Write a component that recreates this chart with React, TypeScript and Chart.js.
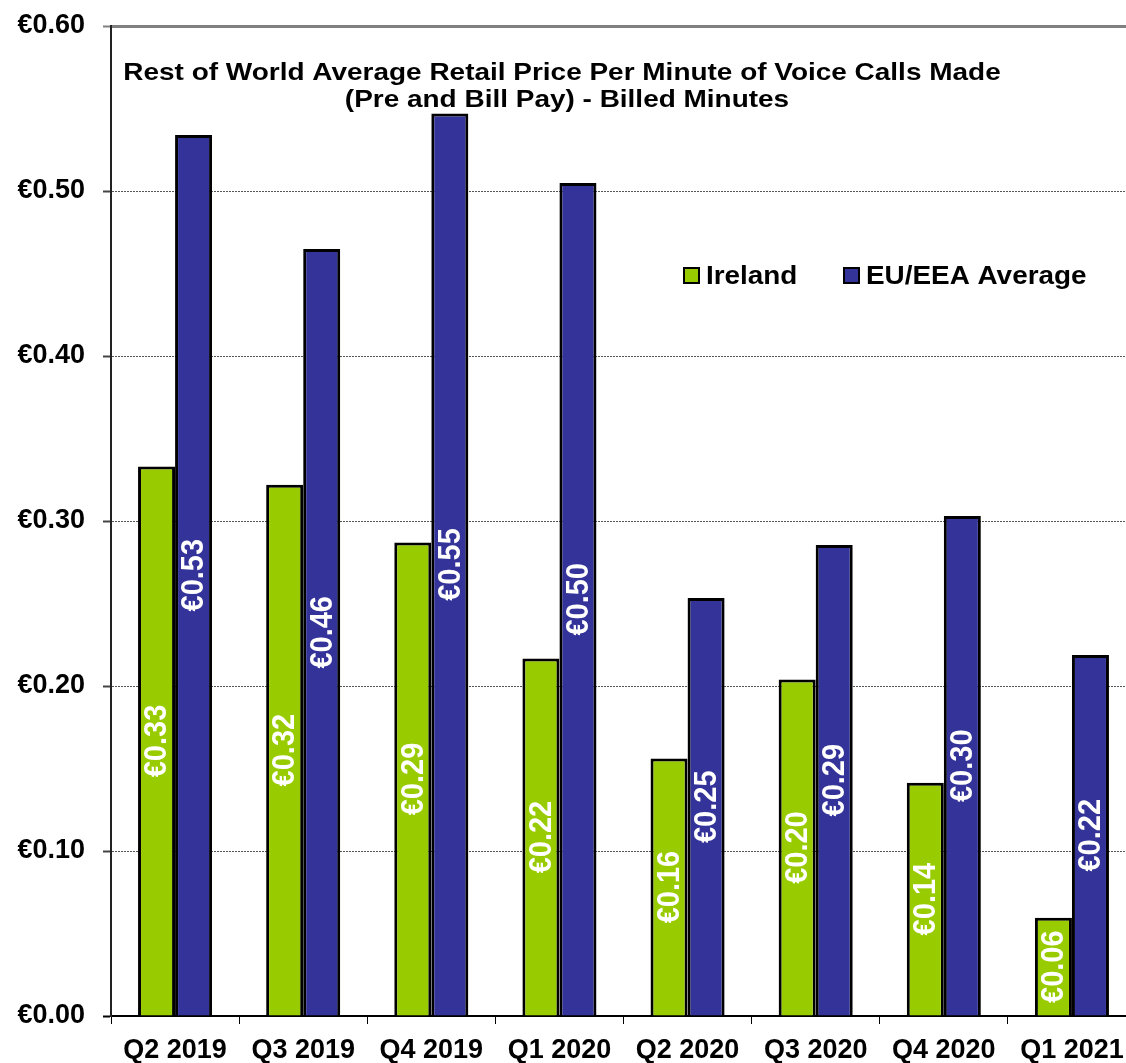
import React, { useEffect, useRef } from "react";
import { Chart, registerables } from "chart.js";

Chart.register(...registerables);

const categories = ["Q2 2019", "Q3 2019", "Q4 2019", "Q1 2020", "Q2 2020", "Q3 2020", "Q4 2020", "Q1 2021"];
const irelandValues = [0.333, 0.322, 0.287, 0.2166, 0.156, 0.2039, 0.1414, 0.0595];
const euValues = [0.534, 0.4648, 0.547, 0.5048, 0.2533, 0.2855, 0.303, 0.2188];
const seriesNames = ["Ireland", "EU/EEA Average"];
const seriesColors = ["#99CC00", "#333399"];
const titleLines = [
  "Rest of World Average Retail Price Per Minute of Voice Calls Made",
  "(Pre and Bill Pay) - Billed Minutes",
];
const yMin = 0;
const yMax = 0.6;
const yStep = 0.1;

const FONT = "'Liberation Sans', Arial, Helvetica, sans-serif";
const euro = (v: number) => "\u20AC" + Number(v).toFixed(2);

const CANVAS_W = 1136;
const CANVAS_H = 1063;

function stretchedText(ctx: any, text: string, x: number, y: number, sx: number, align: string) {
  ctx.save();
  ctx.translate(x, y);
  ctx.scale(sx, 1);
  ctx.textAlign = align;
  ctx.fillText(text, 0, 0);
  ctx.restore();
}

const titlePlugin = {
  id: "customTitle",
  afterDraw(chart: any) {
    const ctx = chart.ctx;
    ctx.save();
    ctx.fillStyle = "#000";
    ctx.font = `bold 24px ${FONT}`;
    ctx.textBaseline = "alphabetic";
    stretchedText(ctx, titleLines[0], 562, 80, 1.165, "center");
    stretchedText(ctx, titleLines[1], 567, 107, 1.165, "center");
    ctx.restore();
  },
};

const legendPlugin = {
  id: "customLegend",
  afterDraw(chart: any) {
    const ctx = chart.ctx;
    const items = [
      { x: 684, label: seriesNames[0], color: seriesColors[0] },
      { x: 844, label: seriesNames[1], color: seriesColors[1] },
    ];
    ctx.save();
    ctx.font = `bold 25px ${FONT}`;
    ctx.textBaseline = "alphabetic";
    for (const it of items) {
      ctx.fillStyle = it.color;
      ctx.fillRect(it.x, 268, 15, 15);
      ctx.strokeStyle = "#000";
      ctx.lineWidth = 2;
      ctx.strokeRect(it.x, 268, 15, 15);
      ctx.fillStyle = "#000";
      stretchedText(ctx, it.label, it.x + 22, 284, 1.115, "left");
    }
    ctx.restore();
  },
};

const valueLabelPlugin = {
  id: "valueLabels",
  afterDatasetsDraw(chart: any) {
    const ctx = chart.ctx;
    ctx.save();
    ctx.font = `bold 29px ${FONT}`;
    ctx.fillStyle = "#fff";
    ctx.textAlign = "center";
    ctx.textBaseline = "middle";
    chart.data.datasets.forEach((ds: any, di: number) => {
      const meta = chart.getDatasetMeta(di);
      meta.data.forEach((bar: any, i: number) => {
        const cy = (bar.y + bar.base) / 2;
        ctx.save();
        ctx.translate(bar.x + 1, cy);
        ctx.rotate(-Math.PI / 2);
        ctx.scale(1, 1.1);
        ctx.fillText(euro(ds.data[i]), 0, 0);
        ctx.restore();
      });
    });
    ctx.restore();
  },
};

export default function App() {
  const canvasRef = useRef<HTMLCanvasElement | null>(null);

  useEffect(() => {
    if (!canvasRef.current) return;
    const chart = new Chart(canvasRef.current, {
      type: "bar",
      data: {
        labels: categories,
        datasets: [
          {
            label: seriesNames[0],
            data: irelandValues,
            backgroundColor: seriesColors[0],
            borderColor: "#000",
            borderWidth: 3,
            categoryPercentage: 0.578,
            barPercentage: 1,
          },
          {
            label: seriesNames[1],
            data: euValues,
            backgroundColor: seriesColors[1],
            borderColor: "#000",
            borderWidth: 3,
            categoryPercentage: 0.578,
            barPercentage: 1,
          },
        ],
      },
      options: {
        responsive: false,
        animation: false,
        devicePixelRatio: 1,
        layout: { padding: { top: 0, right: 0, bottom: 0, left: 0 } },
        plugins: {
          legend: { display: false },
          title: { display: false },
          tooltip: { enabled: false },
        },
        scales: {
          x: {
            afterFit(scale: any) {
              scale.height = 47;
            },
            grid: {
              drawOnChartArea: false,
              drawTicks: true,
              tickLength: 8,
              color: "#000",
              tickColor: "#000",
              offset: true,
            },
            border: { color: "#000", width: 2 },
            ticks: {
              color: "#000",
              font: { family: FONT, size: 27, weight: "bold" },
              padding: 10,
              maxRotation: 0,
              autoSkip: false,
            },
          },
          y: {
            min: yMin,
            max: yMax,
            afterFit(scale: any) {
              scale.width = 111;
              scale.paddingTop = 26;
            },
            ticks: {
              stepSize: yStep,
              color: "#000",
              font: { family: FONT, size: 27, weight: "bold" },
              padding: 18,
              callback: (v: any) => euro(Number(v)),
            },
            grid: {
              color: (c: any) => {
                const v = c.tick ? c.tick.value : 0;
                if (Math.abs(v - yMax) < 1e-9) return "#808080";
                if (Math.abs(v) < 1e-9) return "rgba(0,0,0,0)";
                return "#555";
              },
              lineWidth: (c: any) => {
                const v = c.tick ? c.tick.value : 0;
                return Math.abs(v - yMax) < 1e-9 ? 3 : 1;
              },
              tickLength: 8,
              tickColor: (c: any) => {
                const v = c.tick ? c.tick.value : 0;
                if (Math.abs(v - yMax) < 1e-9) return "#808080";
                if (Math.abs(v) < 1e-9) return "#000";
                return "#444";
              },
              tickWidth: 2,
            },
            border: {
              color: "#222",
              width: 2,
              dash: (c: any) => {
                if (!c.tick) return [];
                return Math.abs(c.tick.value - yMax) < 1e-9 ? [] : [2, 1];
              },
            },
          },
        },
      },
      plugins: [valueLabelPlugin, titlePlugin, legendPlugin],
    } as any);
    return () => chart.destroy();
  }, []);

  return (
    <div
      style={{
        position: "absolute",
        left: 0,
        top: 0,
        width: 1126,
        height: 1063,
        overflow: "hidden",
        background: "#fff",
      }}
    >
      <canvas
        ref={canvasRef}
        width={CANVAS_W}
        height={CANVAS_H}
        style={{ width: CANVAS_W, height: CANVAS_H, display: "block" }}
      />
    </div>
  );
}
